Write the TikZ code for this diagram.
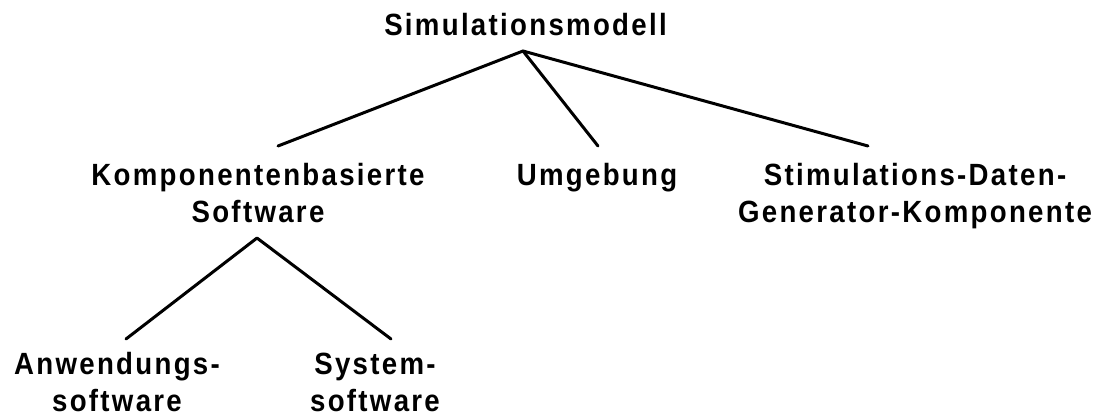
\documentclass[tikz,border=0pt]{standalone}
\usepackage{fontspec}
\setmainfont{Liberation Sans}[LetterSpace=7.5, FakeStretch=0.9]
\begin{document}
\begin{tikzpicture}[x=1pt,y=-1pt,
  label/.style={font=\fontsize{30.7}{37}\selectfont\bfseries, align=center,
    inner sep=0pt, anchor=base},
  branch/.style={line width=3pt, line cap=round, line join=round}]
\useasboundingbox (0,0) rectangle (1101,416);

% labels of the tree (base = baseline of the last line)
\node[label] (root) at (525.5,35) {Simulationsmodell};
\node[label] (komp) at (258,222) {Komponentenbasierte\\Software};
\node[label] (umg)  at (597,185) {Umgebung};
\node[label] (stim) at (915,222) {Stimulations-Daten-\\Generator-Komponente};
\node[label] (anw)  at (117,411) {Anwendungs-\\software};
\node[label] (sys)  at (375,411) {System-\\software};

% joints where the branches meet
\coordinate (rootfork) at (523,51);
\coordinate (kompend) at (278,146);
\coordinate (umgend)  at (598,146);
\coordinate (stimend) at (868,146);
\coordinate (kompfork) at (257,238);
\coordinate (anwend)  at (126,339);
\coordinate (sysend)  at (391,339);

% branches
\draw[branch] (kompend) -- (rootfork) -- (stimend);
\draw[branch] (rootfork) -- (umgend);
\draw[branch] (anwend) -- (kompfork) -- (sysend);
\end{tikzpicture}
\end{document}
